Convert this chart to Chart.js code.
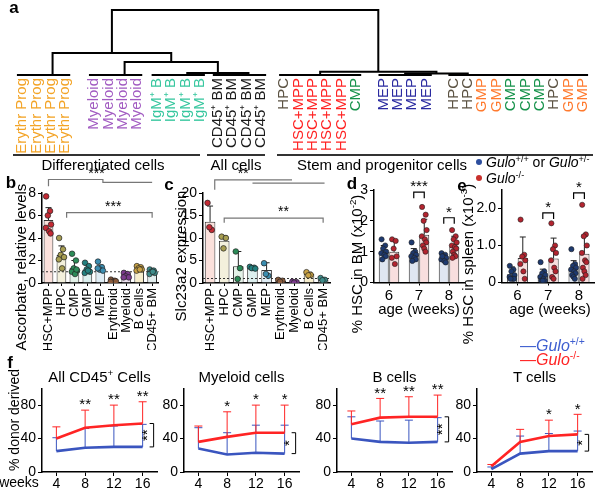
<!DOCTYPE html>
<html>
<head>
<meta charset="utf-8">
<script src="https://cdn.jsdelivr.net/npm/chart.js@4.4.1/dist/chart.umd.min.js"></script>
<style>
  body { margin:0; width:600px; height:488px; overflow:hidden; background:#fff;
         font-family:"Liberation Sans", Arial, sans-serif; position:relative; }
  .t { position:absolute; white-space:nowrap; color:#000; line-height:1; }
  sup { font-size:65%; line-height:0; vertical-align:0.55em; }
  .rule { position:absolute; height:0; border-top:2px solid #333; }
  .dot { display:inline-block; width:6px; height:6px; border-radius:50%; margin-right:4px; vertical-align:2px; }
  canvas { position:absolute; }
</style>
</head>
<body>
<script>
'use strict';

Chart.defaults.font.family = '"Liberation Sans", Arial, sans-serif';
Chart.defaults.color = '#000';

// ---------- a: clustering ----------
const LEAF_LABELS = [
  'Erythr Prog','Erythr Prog','Erythr Prog','Erythr Prog',
  'Myeloid','Myeloid','Myeloid','Myeloid',
  'IgM⁺ B','IgM⁺ B','IgM⁺ B','IgM⁺ B',
  'CD45⁺ BM','CD45⁺ BM','CD45⁺ BM','CD45⁺ BM',
  'HPC','HSC+MPP','HSC+MPP','HSC+MPP','HSC+MPP','CMP',
  'MEP','MEP','MEP','MEP',
  'HPC','HPC','GMP','GMP','CMP','CMP','CMP','HPC','GMP','GMP',
];
const LEAF_TYPE_COLOR = {
  'Erythr Prog': '#f3a427', 'Myeloid': '#a25cc2', 'IgM⁺ B': '#38c79f',
  'CD45⁺ BM': '#1a1a1a', 'HPC': '#5b5242', 'HSC+MPP': '#ff2323',
  'CMP': '#16924b', 'MEP': '#2a2aa0', 'GMP': '#ff7a2e',
};
const BLOCK_SIZES = [4, 4, 4, 4, 6, 4, 10];
const BLOCK_GAPS  = [1.0, 0.35, 0.25, 0.6, 0.9, 0.85];
// leaf-level clusters: [first leaf, last leaf, order of the near-zero merges inside]
const BASE_CLUSTERS = [
  [0, 3, 'seq'], [4, 7, 'seq'], [8, 11, 'seq'], [12, 15, 'seq'],
  [16, 21, 'mean'], [22, 25, 'mean'], [26, 35, 'rev'],
];
// [childA, childB, height]  c = base cluster, m = earlier merge
const MERGES = [
  ['c2', 'c3', 0.03],
  ['c5', 'c6', 0.025],
  ['c4', 'm1', 0.05],
  ['c1', 'm0', 0.2],
  ['c0', 'm3', 0.34],
  ['m4', 'm2', 1.0],
];
const GROUPS = ['Differentiated cells', 'All cells', 'Stem and progenitor cells'];

// ---------- b / c ----------
const CELL_TYPES = ['HSC+MPP','HPC','CMP','GMP','MEP','Erythroid','Myeloid','B Cells','CD45+ BM'];
const B_MEAN = [5.6, 2.5, 1.35, 1.2, 1.3, 0.15, 0.65, 1.25, 1.0];
const B_SD   = [1.1, 0.8, 0.65, 0.4, 0.3, 0.1, 0.15, 0.15, 0.15];
const B_POINTS = [
  [7.7, 6.4, 6.0, 5.2, 4.9, 4.6, 4.4], [4.0, 3.0, 2.5, 2.3, 2.1, 1.3],
  [2.6, 2.0, 1.3, 1.1, 1.0, 0.8, 1.2], [1.8, 1.5, 1.2, 1.0, 0.9, 1.1],
  [1.9, 1.4, 1.2, 1.1, 1.3], [0.3, 0.2, 0.1, 0.15, 0.1],
  [0.9, 0.8, 0.6, 0.5, 0.5], [1.5, 1.4, 1.3, 1.2, 1.1, 1.2],
  [1.2, 1.1, 1.0, 0.9, 0.8, 1.0],
];
const C_MEAN = [13.6, 9.4, 3.7, 3.4, 2.9, 0.5, 0.2, 2.0, 0.8];
const C_SD   = [3.5, 1.1, 3.3, 0.2, 1.6, 0.2, 0.1, 0.4, 0.3];
const C_POINTS = [
  [17.8, 11.8, 12.4], [10.3, 10.0, 7.7], [7.0, 3.3, 0.9], [3.6, 3.4, 3.3, 3.2],
  [4.4, 1.6, 2.0], [0.7, 0.5, 0.3], [0.3, 0.2, 0.1], [2.4, 1.8, 1.7], [1.1, 0.7, 0.6],
];
const TYPE_FILL = ['#fbe1dc','#f3f0dc','#e3f2e8','#dcefee','#dfedf5','#efe3da','#ece0ee','#f7eecd','#e2eeee'];
const TYPE_DOT  = ['#c42a34','#a79e52','#2b8b57','#23807f','#3a8db0','#8a5b3c','#7b3b8c','#c9a244','#3f8d8b'];
// significance links, in [category, value] units
const B_LINKS = [
  { path: [[0, 8.6], [0, 9.2], [4.2, 9.2], [4.2, 8.95], [8, 8.95]], text: '***', at: [3.7, 9.25] },
  { path: [[1.4, 5.8], [1.4, 6.25], [8, 6.25], [8, 5.8]], text: '***', at: [5.0, 6.3] },
];
const C_LINKS = [
  { path: [[0.33, 20.7], [0.33, 22.9], [5.8, 22.9]], text: '**', at: [2.35, 23.1] },
  { path: [[3.0, 22.2], [8.1, 22.2]], text: '', at: [0, 0] },
  { path: [[1, 13.4], [1, 14.4], [8, 14.4], [8, 13.4]], text: '**', at: [5.2, 14.5] },
];

// ---------- d / e ----------
const AGES = ['6', '7', '8'];
const D_WT_MEAN = [1.0, 0.9, 0.8];
const D_WT_SD   = [0.2, 0.2, 0.12];
const D_KO_MEAN = [1.0, 1.55, 1.17];
const D_KO_SD   = [0.35, 0.5, 0.33];
const D_WT_PTS = [
  [1.4, 1.2, 1.1, 1.0, 0.95, 0.9, 0.85, 0.75],
  [1.3, 1.0, 0.95, 0.9, 0.85, 0.8, 0.75, 0.7],
  [0.95, 0.9, 0.85, 0.8, 0.75, 0.7, 0.65, 0.85],
];
const D_KO_PTS = [
  [1.4, 1.35, 1.1, 0.85, 0.8, 0.6],
  [2.45, 2.2, 2.0, 1.7, 1.5, 1.4, 1.3, 1.2, 1.1, 1.0],
  [1.7, 1.5, 1.4, 1.3, 1.2, 1.15, 1.1, 1.0, 0.9, 0.85, 0.8],
];
const D_SIG = [[1, 2.93, '***'], [2, 2.1, '*']];

const E_WT_MEAN = [0.22, 0.19, 0.36];
const E_WT_SD   = [0.2, 0.17, 0.23];
const E_KO_MEAN = [0.66, 0.65, 0.78];
const E_KO_SD   = [0.57, 0.55, 0.5];
const E_WT_PTS = [
  [0.45, 0.35, 0.3, 0.2, 0.15, 0.1, 0.1, 0.1],
  [0.55, 0.3, 0.25, 0.2, 0.15, 0.1, 0.05, 0.05, 0.05],
  [0.9, 0.5, 0.45, 0.4, 0.35, 0.3, 0.25, 0.2, 0.15, 0.1],
];
const E_KO_PTS = [
  [1.7, 0.75, 0.7, 0.6, 0.5, 0.3, 0.1],
  [1.6, 1.0, 0.9, 0.8, 0.6, 0.4, 0.3, 0.15, 0.1],
  [2.1, 1.3, 1.25, 1.0, 0.8, 0.6, 0.55, 0.4, 0.3, 0.2, 0.1],
];
const E_SIG = [[1, 1.88, '*'], [2, 2.42, '*']];

// ---------- f ----------
const WEEKS = ['4', '8', '12', '16'];
const F_TITLES = ['All CD45<sup>+</sup> Cells', 'Myeloid cells', 'B cells', 'T cells'];
const F_KO     = [[40, 53, 56, 58], [36, 42, 47, 47], [57, 65, 66, 66], [7, 36, 43, 45]];
const F_KO_ERR = [[54, 74, 80, 84], [55, 72, 80, 80], [73, 88, 90, 92], [9, 51, 62, 69]];
const F_WT     = [[25, 29, 30, 30], [28, 21, 23, 22], [40, 36, 35, 36], [3.5, 22, 25, 25]];
const F_WT_ERR = [[41, 52, 55, 57], [53, 47, 56, 56], [66, 61, 62, 65], [6, 43, 46, 49]];
const F_STARS  = [['', '**', '**', '**'], ['', '*', '*', '*'], ['', '**', '**', '**'], ['', '', '*', '*']];
const F_SIDE   = ['**', '*', '**', '*'];

const RED = '#ff2424', BLUE = '#3a55bf';
const JIT = [-0.18, 0.12, -0.05, 0.2, -0.2, 0.05, 0.16, -0.12, 0.0, 0.1, -0.15];

// ---------- helpers ----------
function txt(html, x, y, o = {}) {
  const d = document.createElement('div');
  d.className = 't';
  d.innerHTML = html;
  d.style.left = x + 'px';
  d.style.top = y + 'px';
  d.style.fontSize = (o.size || 15) + 'px';
  if (o.color) d.style.color = o.color;
  if (o.bold) d.style.fontWeight = 'bold';
  let tf = o.anchor === 'left' ? 'translate(0,-50%)' : 'translate(-50%,-50%)';
  if (o.rot) tf += ' rotate(-90deg)';
  d.style.transform = tf;
  document.body.appendChild(d);
}

function rule(x1, x2, y) {
  const d = document.createElement('div');
  d.className = 'rule';
  d.style.left = x1 + 'px';
  d.style.width = (x2 - x1) + 'px';
  d.style.top = y + 'px';
  document.body.appendChild(d);
}

function addChart(left, top, w, h, config) {
  const c = document.createElement('canvas');
  c.width = w; c.height = h;
  c.style.left = left + 'px'; c.style.top = top + 'px';
  c.style.width = w + 'px'; c.style.height = h + 'px';
  document.body.appendChild(c);
  config.options = Object.assign({ responsive: false, animation: false, devicePixelRatio: 1 }, config.options);
  config.options.plugins = Object.assign({ legend: { display: false }, tooltip: { enabled: false } }, config.options.plugins || {});
  return new Chart(c, config);
}

function stroke(ctx, pts, color, w, dash) {
  ctx.save();
  ctx.strokeStyle = color;
  ctx.lineWidth = w;
  if (dash) ctx.setLineDash(dash);
  ctx.beginPath();
  pts.forEach(([x, y], i) => (i ? ctx.lineTo(x, y) : ctx.moveTo(x, y)));
  ctx.stroke();
  ctx.restore();
}

function stars(ctx, s, x, y, size, rot) {
  ctx.save();
  ctx.fillStyle = '#000';
  ctx.font = size + 'px "Liberation Sans", Arial, sans-serif';
  ctx.textAlign = 'center';
  ctx.textBaseline = rot ? 'middle' : 'alphabetic';
  ctx.translate(x, y);
  if (rot) ctx.rotate(-Math.PI / 2);
  ctx.fillText(s, 0, rot ? 0 : size * 0.55);
  ctx.restore();
}

const yAxis = (width, max, step, cb) => ({
  min: 0, max,
  afterFit: s => { s.width = width; },
  ticks: { stepSize: step, font: { size: 14 }, padding: 2, callback: cb },
  grid: { drawOnChartArea: false, tickLength: 4, color: '#000' },
  border: { color: '#000', width: 1.5 },
});

// linear x axis whose ticks sit on the integer category slots
const slotAxis = (names, height, tickFont, rotate) => ({
  type: 'linear', min: -0.5, max: names.length - 0.5, offset: false,
  afterFit: s => { s.height = height; },
  afterBuildTicks: s => { s.ticks = names.map((_, i) => ({ value: i })); },
  grid: { drawOnChartArea: false, offset: false, tickLength: 3, color: '#000' },
  border: { color: '#000', width: 1.5 },
  ticks: {
    autoSkip: false, minRotation: rotate ? 90 : 0, maxRotation: rotate ? 90 : 0,
    padding: rotate ? 2 : 1, font: { size: tickFont },
    callback: (v, i) => names[i],
  },
});

// ---------- a ----------
const leafX = [];
(function () {
  let pos = 0;
  BLOCK_SIZES.forEach((n, b) => {
    for (let k = 0; k < n; k++) { leafX.push(pos); pos += 1; }
    pos += BLOCK_GAPS[b] || 0;
  });
})();

function clusterX(xs, order) {
  if (order === 'mean') return xs.reduce((s, v) => s + v, 0) / xs.length;
  const seq = order === 'rev' ? [...xs].reverse() : xs;
  return seq.slice(1).reduce((acc, v) => (acc + v) / 2, seq[0]);
}

const segs = [];
const nodes = {};
BASE_CLUSTERS.forEach(([a, b, order], i) => {
  nodes['c' + i] = { x: clusterX(leafX.slice(a, b + 1), order), h: 0 };
  segs.push([{ x: leafX[a] - 0.35, y: 0 }, { x: leafX[b] + 0.35, y: 0 }]);
});
MERGES.forEach(([A, B, h], i) => {
  const na = nodes[A], nb = nodes[B];
  nodes['m' + i] = { x: (na.x + nb.x) / 2, h };
  segs.push([{ x: na.x, y: na.h }, { x: na.x, y: h }, { x: nb.x, y: h }, { x: nb.x, y: nb.h }]);
});

addChart(0, 0, 600, 160, {
  type: 'scatter',
  data: {
    datasets: segs.map(s => ({
      data: s, showLine: true, borderColor: '#000', borderWidth: 2,
      pointRadius: 0, clip: false,
    })),
  },
  options: {
    layout: { padding: { left: 16.2, right: 11.2, top: 10, bottom: 0 } },
    scales: {
      x: {
        type: 'linear', min: -0.4, max: leafX[leafX.length - 1] + 0.4,
        afterFit: s => { s.height = 85; },
        afterBuildTicks: s => { s.ticks = leafX.map(v => ({ value: v })); },
        grid: { display: false }, border: { display: false },
        ticks: {
          autoSkip: false, minRotation: 90, maxRotation: 90, padding: -5,
          font: { size: 15 },
          color: c => LEAF_TYPE_COLOR[LEAF_LABELS[c.index]],
          callback: (v, i) => LEAF_LABELS[i],
        },
      },
      y: { display: false, min: 0, max: 1 },
    },
  },
});

rule(13, 200, 154); rule(207, 265, 154); rule(277, 593, 154);
txt(GROUPS[0], 103, 164);
txt(GROUPS[1], 236, 164);
txt(GROUPS[2], 297, 164, { anchor: 'left' });
txt('<span class="dot" style="background:#2d4e9e"></span><i>Gulo</i><sup>+/+</sup> or <i>Gulo</i><sup>+/-</sup>', 476, 162, { anchor: 'left', size: 14 });
txt('<span class="dot" style="background:#c8302c"></span><i>Gulo</i><sup>-/-</sup>', 476, 178, { anchor: 'left', size: 14 });

// ---------- b / c ----------
function barPanel(o) {
  const dots = [], dotCols = [];
  o.points.forEach((arr, i) => arr.forEach((v, k) => {
    dots.push({ x: i + JIT[k % JIT.length], y: v });
    dotCols.push(TYPE_DOT[i]);
  }));
  addChart(o.left, 168, o.w, 182, {
    type: 'bar',
    data: {
      datasets: [
        { type: 'scatter', data: dots, backgroundColor: dotCols,
          borderColor: '#222', borderWidth: 0.7, pointRadius: 2.8, order: 0 },
        { type: 'bar', data: o.mean.map((v, i) => ({ x: i, y: v })), backgroundColor: TYPE_FILL,
          borderColor: '#333', borderWidth: 1, barPercentage: 0.75, categoryPercentage: 1, order: 1 },
      ],
    },
    options: {
      layout: { padding: { left: 0, right: 4, top: 25, bottom: 0 } },
      scales: {
        x: slotAxis(CELL_TYPES, 67, 13, true),
        y: yAxis(o.axisW, o.max, o.step),
      },
    },
    plugins: [{
      id: 'bc',
      beforeDatasetDraw(chart, args) {
        if (args.index !== 0) return;
        const ctx = chart.ctx, ys = chart.scales.y, a = chart.chartArea;
        const yr = ys.getPixelForValue(1);
        stroke(ctx, [[a.left, yr], [a.right, yr]], '#333', 1, [2, 2]);
        chart.getDatasetMeta(1).data.forEach((bar, i) => {
          const yt = ys.getPixelForValue(o.mean[i] + o.sd[i]);
          stroke(ctx, [[bar.x, bar.y], [bar.x, yt]], '#222', 1);
          stroke(ctx, [[bar.x - 3, yt], [bar.x + 3, yt]], '#222', 1);
        });
      },
      afterDraw(chart) {
        const ctx = chart.ctx, xs = chart.scales.x, ys = chart.scales.y;
        o.links.forEach(l => {
          stroke(ctx, l.path.map(([c, v]) => [xs.getPixelForValue(c), ys.getPixelForValue(v)]), '#777', 1.2);
          if (l.text) stars(ctx, l.text, xs.getPixelForValue(l.at[0]), ys.getPixelForValue(l.at[1]) - 9, 14);
        });
      },
    }],
  });
}

barPanel({ left: 0, w: 170, axisW: 42, max: 8, step: 2, mean: B_MEAN, sd: B_SD, points: B_POINTS, links: B_LINKS });
barPanel({ left: 173, w: 168, axisW: 30, max: 20, step: 5, mean: C_MEAN, sd: C_SD, points: C_POINTS, links: C_LINKS });

txt('Ascorbate, relative levels', 20, 267, { rot: true });
txt('Slc23a2 expression', 180, 256, { rot: true });

// ---------- d / e ----------
function agePanel(o) {
  const dots = [], dotCols = [];
  const add = (pts, side, col) => pts.forEach((arr, i) => arr.forEach((v, k) => {
    dots.push({ x: i + side * 0.175 + JIT[k % JIT.length] * 0.4, y: v });
    dotCols.push(col);
  }));
  add(o.wtPts, -1, '#1e3a70');
  add(o.koPts, 1, '#b3242f');
  const slots = m => m.map((v, i) => ({ x: i, y: v }));
  addChart(o.left, 170, o.w, 135, {
    type: 'bar',
    data: {
      datasets: [
        { type: 'scatter', data: dots, backgroundColor: dotCols,
          borderColor: '#222', borderWidth: 0.6, pointRadius: 2.6, order: 0 },
        { type: 'bar', data: slots(o.wtMean), backgroundColor: '#dfe6f1', borderColor: '#333',
          borderWidth: 1, barPercentage: 0.95, categoryPercentage: 0.7, order: 1 },
        { type: 'bar', data: slots(o.koMean), backgroundColor: '#f8dede', borderColor: '#333',
          borderWidth: 1, barPercentage: 0.95, categoryPercentage: 0.7, order: 1 },
      ],
    },
    options: {
      layout: { padding: { left: 0, right: o.padR, top: 20, bottom: 0 } },
      scales: {
        x: slotAxis(AGES, 22.5, 15, false),
        y: yAxis(o.axisW, o.max, o.step, o.cb),
      },
    },
    plugins: [{
      id: 'de',
      beforeDatasetDraw(chart, args) {
        if (args.index !== 0) return;
        const ctx = chart.ctx, ys = chart.scales.y;
        [[1, o.wtMean, o.wtSd], [2, o.koMean, o.koSd]].forEach(([di, m, sd]) => {
          chart.getDatasetMeta(di).data.forEach((bar, i) => {
            const yt = ys.getPixelForValue(m[i] + sd[i]);
            stroke(ctx, [[bar.x, bar.y], [bar.x, yt]], '#222', 1);
            stroke(ctx, [[bar.x - 3, yt], [bar.x + 3, yt]], '#222', 1);
          });
        });
      },
      afterDraw(chart) {
        const ctx = chart.ctx, ys = chart.scales.y;
        o.sig.forEach(([i, v, s]) => {
          const x1 = chart.getDatasetMeta(1).data[i].x, x2 = chart.getDatasetMeta(2).data[i].x;
          const y = ys.getPixelForValue(v);
          stroke(ctx, [[x1, y + 6], [x1, y], [x2, y], [x2, y + 6]], '#000', 1.2);
          stars(ctx, s, (x1 + x2) / 2, y - 9, 15);
        });
      },
    }],
  });
}

agePanel({ left: 354, w: 116, padR: 6, axisW: 20, max: 3, step: 1,
  wtMean: D_WT_MEAN, wtSd: D_WT_SD, koMean: D_KO_MEAN, koSd: D_KO_SD,
  wtPts: D_WT_PTS, koPts: D_KO_PTS, sig: D_SIG });
agePanel({ left: 472, w: 127, padR: 3, axisW: 30, max: 2.5, step: 0.5,
  cb: v => (v === 0 ? '0' : v.toFixed(1)),
  wtMean: E_WT_MEAN, wtSd: E_WT_SD, koMean: E_KO_MEAN, koSd: E_KO_SD,
  wtPts: E_WT_PTS, koPts: E_KO_PTS, sig: E_SIG });

txt('% HSC in BM (x10<sup>-2</sup>)', 356, 264, { rot: true });
txt('% HSC in spleen (x10<sup>-3</sup>)', 467, 264, { rot: true });
txt('age (weeks)', 419, 308);
txt('age (weeks)', 550, 308);

// ---------- f ----------
const F_AXIS_X = [42, 184, 337, 477];
const F_AREA_W = 115;

function fPanel(k) {
  const ax = F_AXIS_X[k];
  addChart(ax - 30, 378, 30 + F_AREA_W + 6, 112, {
    type: 'line',
    data: {
      labels: WEEKS,
      datasets: [
        { data: F_KO[k], borderColor: RED, borderWidth: 2.6, pointRadius: 0, order: 0 },
        { data: F_WT[k], borderColor: BLUE, borderWidth: 2.6, pointRadius: 0, order: 1 },
      ],
    },
    options: {
      layout: { padding: { left: 0, right: 6, top: 5, bottom: 0 } },
      scales: {
        x: {
          offset: true,
          afterFit: s => { s.height = 18; },
          grid: { drawOnChartArea: false, offset: false, tickLength: 4, color: '#000' },
          border: { color: '#000', width: 1.5 },
          ticks: { font: { size: 14 }, padding: 0, maxRotation: 0 },
        },
        y: yAxis(30, 100, 20),
      },
    },
    plugins: [{
      id: 'f',
      beforeDatasetsDraw(chart) {
        const ctx = chart.ctx, xs = chart.scales.x, ys = chart.scales.y;
        [[F_WT[k], F_WT_ERR[k], BLUE], [F_KO[k], F_KO_ERR[k], RED]].forEach(([m, e, col]) => {
          m.forEach((v, i) => {
            const x = xs.getPixelForValue(i);
            const y0 = ys.getPixelForValue(v), y1 = ys.getPixelForValue(e[i]);
            stroke(ctx, [[x, y0], [x, y1]], col, 1);
            stroke(ctx, [[x - 4, y1], [x + 4, y1]], col, 1);
          });
        });
      },
      afterDraw(chart) {
        const ctx = chart.ctx, xs = chart.scales.x, ys = chart.scales.y;
        F_STARS[k].forEach((s, i) => {
          if (s) stars(ctx, s, xs.getPixelForValue(i), ys.getPixelForValue(F_KO_ERR[k][i]) - 9, 15);
        });
        const last = WEEKS.length - 1;
        const bx = xs.getPixelForValue(last) + 11;
        const yr = ys.getPixelForValue(F_KO[k][last]), yb = ys.getPixelForValue(F_WT[k][last]);
        stroke(ctx, [[bx - 4, yr], [bx, yr], [bx, yb], [bx - 4, yb]], '#000', 1);
        stars(ctx, F_SIDE[k], bx - 6, (yr + yb) / 2, 15, true);
      },
    }],
  });
  txt(F_TITLES[k], ax + F_AREA_W / 2, 376);
}

[0, 1, 2, 3].forEach(fPanel);
txt('% donor derived', 14, 420, { rot: true, size: 14 });
txt('weeks', 19, 482, { size: 14 });
txt('—<i>Gulo</i><sup>+/+</sup>', 520, 346, { anchor: 'left', size: 16, color: '#3f5fd0' });
txt('—<i>Gulo</i><sup>-/-</sup>', 520, 360, { anchor: 'left', size: 16, color: RED });

// ---------- panel letters ----------
[['a', 14, 7], ['b', 11, 182], ['c', 169, 184], ['d', 352, 183], ['e', 462, 185], ['f', 10, 362]]
  .forEach(([s, x, y]) => txt(s, x, y, { bold: true, size: 17 }));
</script>
</body>
</html>
